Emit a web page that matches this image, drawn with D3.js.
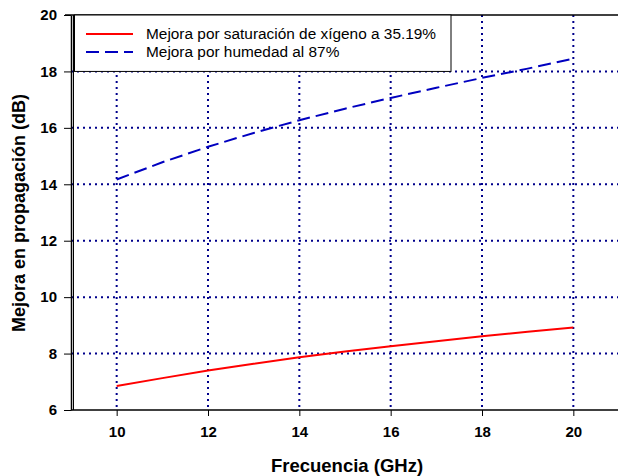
<!DOCTYPE html>
<html>
<head>
<meta charset="utf-8">
<script src="https://cdn.jsdelivr.net/npm/d3@7"></script>
<style>
  body { margin: 0; background: #fff; }
  svg { display: block; font-family: "Liberation Sans", Arial, sans-serif; }
</style>
</head>
<body>
<div id="chart"></div>
<script>
const freqs = [10, 11, 12, 13, 14, 15, 16, 17, 18, 19, 20];
const oxygenGain = [6.85, 7.13, 7.40, 7.64, 7.87, 8.07, 8.26, 8.44, 8.61, 8.77, 8.92];
const humidityGain = [14.17, 14.78, 15.33, 15.82, 16.27, 16.68, 17.06, 17.42, 17.77, 18.10, 18.45];
const xTicks = [10, 12, 14, 16, 18, 20];
const yTicks = [6, 8, 10, 12, 14, 16, 18, 20];
const seriesNames = ["Mejora por saturación de xígeno a 35.19%", "Mejora por humedad al 87%"];

const width = 618, height = 476;
const svg = d3.select("#chart").append("svg")
  .attr("width", width)
  .attr("height", height);

const x = d3.scaleLinear().domain([9, 21]).range([71, 619]);
const y = d3.scaleLinear().domain([6, 20]).range([410, 15]);
const gridColor = "#00008b";

// grid
svg.append("g").selectAll("line")
  .data(xTicks)
  .enter().append("line")
  .attr("x1", d => x(d)).attr("x2", d => x(d))
  .attr("y1", y(20)).attr("y2", y(6))
  .attr("stroke", gridColor)
  .attr("stroke-width", 2)
  .attr("stroke-dasharray", "2,4");

svg.append("g").selectAll("line")
  .data(yTicks.filter(d => d > 6 && d < 20))
  .enter().append("line")
  .attr("x1", x(9)).attr("x2", width)
  .attr("y1", d => y(d)).attr("y2", d => y(d))
  .attr("stroke", gridColor)
  .attr("stroke-width", 2)
  .attr("stroke-dasharray", "2,4");

// axes
const xAxis = svg.append("g")
  .attr("transform", `translate(0,${y(6)})`)
  .call(d3.axisBottom(x).tickValues(xTicks).tickSize(6).tickPadding(10).tickSizeOuter(0));
const yAxis = svg.append("g")
  .attr("transform", `translate(${x(9)},0)`)
  .call(d3.axisLeft(y).tickValues(yTicks).tickSize(7).tickPadding(7).tickSizeOuter(0));

[xAxis, yAxis].forEach(a => {
  a.select(".domain").attr("stroke", "#000").attr("stroke-width", 1.5);
  a.selectAll(".tick line").attr("stroke", "#000").attr("stroke-width", 1);
  a.selectAll("text")
    .attr("fill", "#000")
    .style("font-size", "15px")
    .style("font-weight", "bold")
    .style("font-family", "'Liberation Sans', Arial, sans-serif");
});
xAxis.select(".domain").attr("d", `M${x(9)},0H${width}`);

// second line of the double left axis
svg.append("line")
  .attr("x1", x(9) + 2.5).attr("x2", x(9) + 2.5)
  .attr("y1", y(20)).attr("y2", y(6))
  .attr("stroke", "#000").attr("stroke-width", 1);

// top border
svg.append("line")
  .attr("x1", x(9) - 6).attr("x2", width)
  .attr("y1", y(20)).attr("y2", y(20))
  .attr("stroke", "#000").attr("stroke-width", 1.5);

// series
const line = d3.line()
  .x((d, i) => x(freqs[i]))
  .y(d => y(d));

svg.append("path")
  .datum(oxygenGain)
  .attr("d", line)
  .attr("fill", "none")
  .attr("stroke", "#ff0000")
  .attr("stroke-width", 2);

svg.append("path")
  .datum(humidityGain)
  .attr("d", line)
  .attr("fill", "none")
  .attr("stroke", "#0000c0")
  .attr("stroke-width", 2)
  .attr("stroke-dasharray", "13,6");

// legend
const legend = svg.append("g");
legend.append("rect")
  .attr("x", 74.5).attr("y", y(20))
  .attr("width", 376.5).attr("height", y(18) - y(20))
  .attr("fill", "#fff")
  .attr("stroke", "#000")
  .attr("stroke-width", 1);

const legendStyles = [
  { color: "#ff0000", dash: null },
  { color: "#0000c0", dash: "13,6" }
];
seriesNames.forEach((name, i) => {
  const ly = 34 + i * 18;
  legend.append("line")
    .attr("x1", 86).attr("x2", 133)
    .attr("y1", ly).attr("y2", ly)
    .attr("stroke", legendStyles[i].color)
    .attr("stroke-width", 2)
    .attr("stroke-dasharray", legendStyles[i].dash);
  legend.append("text")
    .attr("x", 146).attr("y", ly + 5)
    .style("font-size", "15.4px")
    .text(name);
});

// axis titles
svg.append("text")
  .attr("x", 347).attr("y", 472)
  .attr("text-anchor", "middle")
  .style("font-size", "18.5px")
  .style("font-weight", "bold")
  .text("Frecuencia (GHz)");

svg.append("text")
  .attr("transform", "rotate(-90)")
  .attr("x", -213).attr("y", 25)
  .attr("text-anchor", "middle")
  .style("font-size", "18px")
  .style("font-weight", "bold")
  .text("Mejora en propagación (dB)");
</script>
</body>
</html>
